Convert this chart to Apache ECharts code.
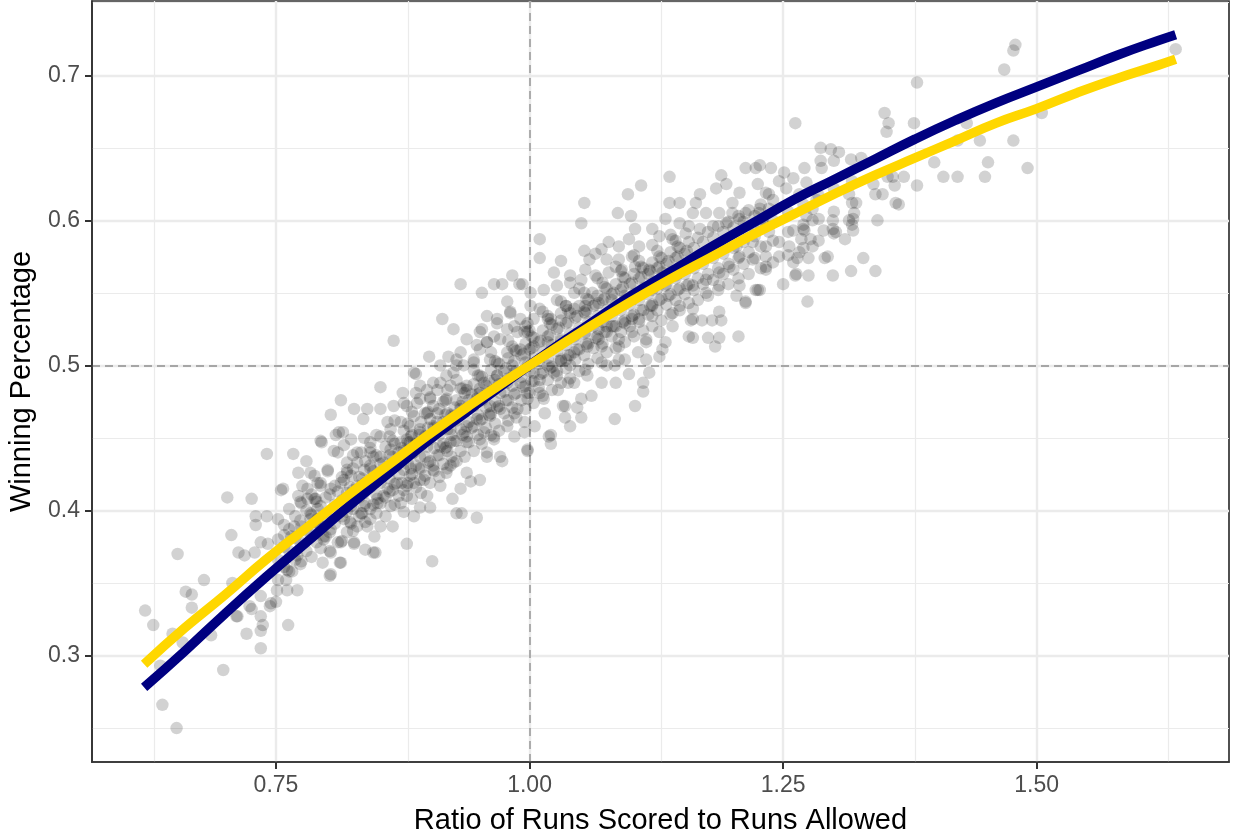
<!DOCTYPE html>
<html>
<head>
<meta charset="utf-8">
<script src="https://cdn.jsdelivr.net/npm/echarts@6/dist/echarts.min.js"></script>
<style>
html,body{margin:0;padding:0;background:#fff;overflow:hidden;}
#chart{width:1233px;height:834px;}
</style>
</head>
<body>
<div id="chart"></div>
<script>
// ---- tick values / labels ----
const xTickValues = [0.75, 1.00, 1.25, 1.50];
const xTickLabels = ['0.75', '1.00', '1.25', '1.50'];
const xMinorValues = [0.625, 0.875, 1.125, 1.375, 1.625];
const yTickValues = [0.3, 0.4, 0.5, 0.6, 0.7];
const yTickLabels = ['0.3', '0.4', '0.5', '0.6', '0.7'];
const yMinorValues = [0.25, 0.35, 0.45, 0.55, 0.65, 0.75];
const refX = 1.0;
const refY = 0.5;

// ---- team seasons: [run ratio, winning percentage] (outer / readable points) ----
const teamPoints = [
[0.741,0.439],[0.767,0.439],[0.702,0.409],[0.726,0.408],[0.653,0.370],[0.621,0.331],[0.629,0.321],[0.679,0.352],[0.661,0.344],[0.667,0.342],[0.667,0.333],[0.648,0.315],[0.658,0.309],[0.686,0.314],[0.698,0.290],[0.638,0.266],[0.652,0.250],[0.636,0.293],[0.721,0.315],[0.735,0.305],[0.735,0.317],[0.737,0.321],[0.762,0.321],[0.711,0.327],[0.724,0.334],[0.735,0.327],[0.744,0.334],[0.750,0.337],
[0.706,0.383],[0.730,0.396],[0.741,0.396],[0.730,0.390],[0.713,0.371],[0.719,0.369],[0.729,0.371],[0.735,0.378],[0.742,0.377],[0.755,0.414],[0.772,0.426],[0.780,0.434],[0.784,0.426],[0.801,0.427],[0.795,0.447],[0.776,0.417],[0.772,0.410],[0.781,0.408],[0.789,0.408],[0.791,0.419],[0.804,0.415],[0.758,0.383],[0.768,0.389],[0.707,0.350],[0.712,0.327],[0.735,0.341],[0.726,0.332],[0.745,0.336],[0.751,0.345],[0.760,0.352],[0.761,0.345],[0.771,0.345],[0.766,0.358],[0.775,0.365],[0.796,0.364],[0.803,0.355],[0.813,0.364],[0.797,0.380],[0.811,0.378],[0.804,0.371],[0.827,0.377],[0.838,0.373],[0.846,0.371],[0.807,0.441],[0.812,0.454],[0.817,0.445],[0.837,0.450],[0.843,0.440],[0.830,0.440],[0.820,0.433],[0.837,0.428],[0.811,0.413],[0.817,0.421],[0.824,0.424],[0.830,0.417],[0.843,0.417],[0.824,0.403],[0.837,0.403],[0.843,0.394],[0.830,0.389],[0.817,0.394],[0.791,0.394],[0.804,0.387],[0.850,0.408],[0.791,0.401],[0.784,0.394],
[0.932,0.556],[0.965,0.556],[0.973,0.556],[0.983,0.562],[0.990,0.556],[0.953,0.550],[0.978,0.544],[0.981,0.537],[0.914,0.532],[0.925,0.525],[0.958,0.534],[0.968,0.532],[0.953,0.525],[0.866,0.517],[0.901,0.506],[0.920,0.506],[0.928,0.504],[0.888,0.494],[0.853,0.485],[0.814,0.476],[0.804,0.466],[0.794,0.448],[0.757,0.415],[0.827,0.470],[0.840,0.470],[0.853,0.470],[0.836,0.463],[0.809,0.452],[0.816,0.454],[0.824,0.449],[0.811,0.440],[0.834,0.440],[0.843,0.447],[0.860,0.461],[0.866,0.472],[0.875,0.481],[0.888,0.481],[0.876,0.474],[0.889,0.474],[0.899,0.483],[0.909,0.483],[0.902,0.477],[0.912,0.488],[0.918,0.493],[0.925,0.495],[0.935,0.500],[0.945,0.504],[0.951,0.511],[0.958,0.516],[0.965,0.520],[0.978,0.525],[0.985,0.527],[0.991,0.532],[0.998,0.523],[0.938,0.483],[0.951,0.481],[0.965,0.483],[0.978,0.488],[0.991,0.488],[0.998,0.481],[0.938,0.470],[0.925,0.465],[0.948,0.463],[0.961,0.465],[0.971,0.470],[0.985,0.467],[0.995,0.461],[0.938,0.451],[0.951,0.449],[0.965,0.451],[0.958,0.440],[0.973,0.434],[0.985,0.451],[0.998,0.442],[0.951,0.421],[0.942,0.420],[0.924,0.408],[0.928,0.398],[0.933,0.398],[0.948,0.395],[0.912,0.417],[0.918,0.426],[0.925,0.433],[0.905,0.431],[0.896,0.421],[0.886,0.419],[0.879,0.410],[0.899,0.410],[0.902,0.402],[0.892,0.402],[0.886,0.396],[0.879,0.377],[0.904,0.365],[0.865,0.389],[0.853,0.389],[0.840,0.389],[0.847,0.382],[0.848,0.371],[0.827,0.378],[0.814,0.378],[0.814,0.364],[0.804,0.356],[0.797,0.382],[0.788,0.391],[0.784,0.398],[0.775,0.389],[0.765,0.382],[0.771,0.369],[0.761,0.359],[0.794,0.419],[0.814,0.419],[0.824,0.410],[0.837,0.412],[0.850,0.405],[0.860,0.415],[0.869,0.419],[0.863,0.403],[0.873,0.405],[0.834,0.398],[0.824,0.391],[0.843,0.431],[0.853,0.437],[0.863,0.442],[0.873,0.447],[0.883,0.451],[0.892,0.456],[0.879,0.437],[0.892,0.437],[0.869,0.431],[0.883,0.429],[0.899,0.444],[0.912,0.444],[0.922,0.447],[0.909,0.456],[0.918,0.459],[0.863,0.456],[0.853,0.451],[0.873,0.461],[0.886,0.465],[0.899,0.467],[0.909,0.467],[0.830,0.433],[0.820,0.428],[0.801,0.428],[0.788,0.424],[0.781,0.415],[0.775,0.405],[0.788,0.408],
[1.138,0.630],[1.110,0.624],[1.097,0.618],[1.054,0.612],[1.051,0.598],[1.087,0.605],[1.100,0.603],[1.138,0.612],[1.148,0.612],[1.010,0.587],[1.010,0.574],[1.031,0.572],[0.993,0.556],[1.168,0.618],[1.189,0.631],[1.194,0.625],[1.184,0.622],[1.213,0.636],[1.223,0.636],[1.238,0.636],[1.225,0.625],[1.233,0.619],[1.207,0.619],[1.200,0.612],[1.164,0.612],[1.161,0.605],[1.174,0.605],[1.187,0.605],[1.200,0.605],[1.213,0.605],[1.226,0.605],[1.134,0.601],[1.148,0.598],[1.121,0.594],[1.104,0.594],[1.078,0.585],[1.071,0.580],[1.054,0.579],[1.059,0.573],[1.088,0.582],[1.098,0.587],[1.108,0.582],[1.128,0.589],[1.141,0.587],[1.154,0.591],[1.168,0.594],[1.181,0.596],[1.194,0.598],[1.207,0.601],[1.220,0.596],[1.233,0.596],[1.187,0.582],[1.204,0.582],[1.220,0.585],[1.233,0.582],[1.207,0.575],[1.220,0.573],[1.233,0.568],[1.197,0.568],[1.187,0.564],[1.174,0.559],[1.161,0.555],[1.174,0.550],[1.187,0.555],[1.207,0.555],[1.225,0.552],[1.204,0.548],[1.213,0.543],[1.187,0.537],[1.161,0.539],[1.148,0.541],[1.159,0.531],[1.170,0.531],[1.180,0.531],[1.189,0.531],[1.161,0.519],[1.176,0.519],[1.187,0.519],[1.183,0.513],[1.206,0.520],[1.141,0.527],[1.128,0.523],[1.134,0.516],[1.128,0.506],[1.115,0.504],[1.118,0.495],[1.112,0.488],[1.112,0.482],[1.104,0.472],[1.084,0.463],[1.098,0.494],[1.085,0.488],[1.071,0.488],[1.061,0.479],[1.051,0.477],[1.051,0.464],[1.040,0.458],[1.035,0.472],[1.021,0.452],[1.021,0.446],[1.005,0.458],[1.015,0.467],[1.028,0.483],[1.038,0.488],[1.057,0.493],[1.071,0.502],[1.084,0.500],[1.094,0.504],[1.107,0.509],[1.071,0.513],[1.057,0.513],[1.044,0.509],[1.031,0.504],[1.018,0.500],[1.004,0.495],[1.010,0.481],[1.024,0.495],[1.040,0.500],[1.088,0.518],[1.101,0.523],[1.115,0.518],[1.121,0.534],[1.108,0.532],[1.094,0.529],[1.081,0.527],[1.068,0.525],[1.055,0.523],[1.044,0.520],[1.031,0.518],[1.018,0.516],[1.004,0.513],[0.995,0.523],[1.004,0.532],[1.018,0.534],[1.031,0.536],[1.044,0.539],[1.055,0.541],[1.068,0.543],[1.081,0.545],[1.094,0.548],[1.108,0.550],[1.121,0.552],[1.134,0.555],[1.144,0.562],[1.131,0.564],[1.118,0.566],[1.104,0.568],[1.091,0.566],[1.078,0.564],[1.065,0.562],[1.051,0.559],[1.040,0.557],[1.027,0.555],[1.014,0.552],[1.001,0.550],[1.001,0.541],[1.044,0.550],[1.027,0.545],[1.062,0.550],[1.076,0.573],[1.088,0.573],[1.101,0.575],[1.065,0.577],[1.040,0.562],[1.024,0.564],[1.055,0.566],
[1.262,0.667],[1.350,0.674],[1.354,0.667],[1.352,0.661],[1.379,0.667],[1.431,0.667],[1.444,0.655],[1.477,0.655],[1.422,0.655],[1.452,0.640],[1.399,0.640],[1.408,0.630],[1.422,0.630],[1.449,0.630],[1.369,0.630],[1.382,0.624],[1.360,0.624],[1.364,0.611],[1.348,0.618],[1.341,0.618],[1.339,0.625],[1.353,0.630],[1.358,0.630],[1.343,0.600],[1.329,0.574],[1.317,0.565],[1.299,0.562],[1.291,0.574],[1.274,0.544],[1.250,0.556],[1.275,0.562],[1.262,0.562],[1.275,0.574],[1.264,0.574],[1.311,0.587],[1.302,0.592],[1.319,0.593],[1.315,0.600],[1.320,0.605],[1.322,0.612],[1.315,0.618],[1.290,0.593],[1.299,0.600],[1.279,0.600],[1.277,0.587],[1.268,0.587],[1.271,0.593],[1.260,0.593],[1.246,0.585],[1.236,0.592],[1.256,0.582],[1.246,0.575],[1.233,0.575],[1.233,0.566],[1.227,0.552],[1.287,0.650],[1.297,0.649],[1.305,0.647],[1.287,0.641],[1.300,0.641],[1.288,0.636],[1.271,0.636],[1.251,0.633],[1.260,0.629],[1.246,0.627],[1.273,0.626],[1.253,0.622],[1.236,0.618],[1.266,0.618],[1.317,0.642],[1.327,0.643],[1.227,0.638],[1.279,0.608],[1.273,0.603],[1.283,0.614],[1.227,0.608],[1.236,0.608],[1.230,0.601],[1.382,0.695],[1.341,0.565],
[1.479,0.721],[1.477,0.717],[1.468,0.704],[1.637,0.718],[1.505,0.674],[1.491,0.636],
[1.263,0.563],[1.260,0.571],[1.223,0.552],[1.213,0.544],[1.294,0.575],[1.319,0.601],[1.361,0.612],[1.299,0.594],[1.270,0.594],[1.279,0.582],[1.266,0.578],
[1.035,0.464],[1.033,0.472],[1.047,0.471],[1.019,0.451],[0.998,0.441],[0.886,0.495],[0.948,0.514],[0.951,0.523],[0.968,0.529],[0.981,0.536],[1.010,0.539],[1.036,0.541],[1.021,0.532],[0.998,0.529],[1.055,0.536],[1.076,0.527],[1.101,0.532],[1.121,0.541],[1.141,0.536],[1.161,0.532],[1.157,0.520],[1.115,0.516],[1.131,0.511],[1.088,0.513],[1.068,0.518],[1.036,0.504],[1.010,0.490],[1.027,0.493],[1.044,0.488],[1.055,0.497],[1.076,0.500],[1.088,0.504],[0.998,0.477],[1.014,0.477],[0.988,0.470],[0.978,0.458],[0.995,0.454],[0.965,0.449],[0.971,0.437],[0.958,0.437],[0.938,0.426],[0.922,0.431],[0.905,0.428],[0.892,0.421],[0.879,0.417],[0.932,0.415],[0.886,0.440],[0.918,0.444],[0.938,0.447],[0.955,0.454],[0.938,0.458],[0.922,0.456],[0.905,0.458],[0.892,0.454],[0.879,0.449],[0.879,0.472],[0.892,0.477],[0.905,0.472],[0.918,0.477],[0.932,0.472],[0.948,0.477],[0.961,0.472],[0.971,0.481],[0.955,0.488],[0.938,0.486],[0.922,0.486],[0.905,0.488],[0.892,0.486],[0.912,0.500],[0.928,0.500],[0.945,0.502],[0.961,0.504],[0.978,0.509],[0.991,0.511],[0.985,0.495],[0.998,0.500],[0.968,0.493],[0.971,0.518],[0.988,0.523],[0.938,0.518],[0.958,0.516],[0.932,0.509]
];

// ---- team seasons in the dense core of the cloud (estimated) ----
const corePoints = [
[0.752,0.352],[0.752,0.366],[0.752,0.380],[0.752,0.394],[0.763,0.358],[0.763,0.372],[0.763,0.387],[0.763,0.401],[0.774,0.363],[0.774,0.378],[0.774,0.393],[0.774,0.406],[0.785,0.368],[0.785,0.383],[0.785,0.397],[0.785,0.411],[0.794,0.374],[0.794,0.389],[0.794,0.403],[0.794,0.417],
[0.803,0.372],[0.803,0.385],[0.803,0.398],[0.803,0.411],[0.815,0.379],[0.815,0.396],[0.815,0.407],[0.815,0.423],[0.826,0.386],[0.826,0.401],[0.826,0.414],[0.826,0.429],[0.826,0.438],[0.838,0.392],[0.838,0.405],[0.838,0.419],[0.838,0.434],[0.849,0.398],[0.849,0.411],[0.849,0.424],[0.849,0.438],[0.849,0.452],[0.858,0.396],[0.858,0.409],[0.858,0.427],[0.858,0.444],[0.867,0.404],[0.867,0.418],[0.867,0.433],[0.867,0.446],[0.867,0.462],[0.876,0.399],[0.876,0.414],[0.876,0.428],[0.876,0.441],[0.876,0.455],[0.884,0.408],[0.884,0.425],[0.884,0.439],[0.884,0.452],[0.884,0.468],[0.893,0.412],[0.893,0.429],[0.893,0.445],[0.893,0.461],[0.902,0.419],[0.902,0.434],[0.902,0.449],[0.902,0.463],[0.902,0.478],[0.911,0.423],[0.911,0.438],[0.911,0.452],[0.911,0.470],[0.919,0.429],[0.919,0.441],[0.919,0.456],[0.919,0.467],[0.919,0.483],[0.928,0.434],[0.928,0.448],[0.928,0.462],[0.928,0.476],[0.928,0.490],[0.936,0.437],[0.936,0.454],[0.936,0.468],[0.936,0.481],[0.945,0.441],[0.945,0.458],[0.945,0.472],[0.945,0.487],[0.945,0.497],[0.953,0.446],[0.953,0.463],[0.953,0.476],[0.953,0.492],[0.962,0.452],[0.962,0.467],[0.962,0.482],[0.962,0.497],[0.962,0.509],[0.970,0.455],[0.970,0.472],[0.970,0.487],[0.970,0.501],[0.979,0.462],[0.979,0.476],[0.979,0.491],[0.979,0.505],[0.979,0.517],[0.987,0.464],[0.987,0.481],[0.987,0.496],[0.987,0.510],[0.996,0.470],[0.996,0.486],[0.996,0.502],[0.996,0.515],[0.996,0.527],
[1.004,0.474],[1.004,0.489],[1.004,0.505],[1.004,0.519],[1.013,0.479],[1.013,0.495],[1.013,0.509],[1.013,0.524],[1.013,0.537],[1.022,0.483],[1.022,0.499],[1.022,0.514],[1.022,0.528],[1.031,0.488],[1.031,0.503],[1.031,0.517],[1.031,0.531],[1.031,0.544],[1.040,0.491],[1.040,0.507],[1.040,0.522],[1.040,0.536],[1.049,0.496],[1.049,0.511],[1.049,0.526],[1.049,0.541],[1.049,0.553],[1.058,0.501],[1.058,0.515],[1.058,0.530],[1.058,0.545],[1.067,0.505],[1.067,0.520],[1.067,0.534],[1.067,0.548],[1.067,0.560],[1.076,0.509],[1.076,0.523],[1.076,0.538],[1.076,0.553],[1.085,0.512],[1.085,0.527],[1.085,0.542],[1.085,0.556],[1.085,0.568],[1.094,0.516],[1.094,0.531],[1.094,0.545],[1.094,0.560],[1.103,0.520],[1.103,0.535],[1.103,0.549],[1.103,0.563],[1.103,0.576],[1.112,0.524],[1.112,0.538],[1.112,0.553],[1.112,0.567],[1.121,0.527],[1.121,0.542],[1.121,0.557],[1.121,0.571],[1.121,0.583],[1.130,0.531],[1.130,0.546],[1.130,0.560],[1.130,0.574],[1.139,0.535],[1.139,0.549],[1.139,0.564],[1.139,0.578],[1.139,0.590],[1.148,0.538],[1.148,0.553],[1.148,0.567],[1.148,0.581],[1.157,0.543],[1.157,0.556],[1.157,0.571],[1.157,0.585],[1.157,0.596],[1.166,0.545],[1.166,0.560],[1.166,0.574],[1.166,0.588],[1.176,0.548],[1.176,0.563],[1.176,0.578],[1.176,0.592],[1.186,0.552],[1.186,0.567],[1.186,0.581],[1.186,0.596],[1.196,0.556],[1.196,0.570],[1.196,0.585],[1.196,0.599],[1.206,0.560],[1.206,0.574],[1.206,0.589],[1.206,0.603],[1.216,0.563],[1.216,0.578],[1.216,0.592],[1.216,0.607],[1.228,0.567],[1.228,0.582],[1.228,0.596],[1.228,0.611],[1.240,0.571],[1.240,0.586],[1.240,0.600],[1.240,0.614],
[1.255,0.576],[1.255,0.592],[1.255,0.606],[1.270,0.581],[1.270,0.597],[1.270,0.611],[1.285,0.586],[1.285,0.601],[1.285,0.617],[1.300,0.591],[1.300,0.606],[1.300,0.622],[1.318,0.597],[1.318,0.612],[1.318,0.627]
];

// ---- more team seasons in the darkest band along the curves (estimated) ----
const bandPoints = [
[0.758,0.361],[0.758,0.375],[0.758,0.390],[0.769,0.366],[0.769,0.381],[0.769,0.396],[0.780,0.372],[0.780,0.386],[0.780,0.400],[0.790,0.378],[0.790,0.392],[0.790,0.406],[0.799,0.382],[0.799,0.396],[0.799,0.409],
[0.808,0.391],[0.808,0.404],[0.808,0.417],[0.820,0.385],[0.820,0.399],[0.820,0.412],[0.820,0.426],[0.832,0.396],[0.832,0.409],[0.832,0.423],[0.843,0.401],[0.843,0.416],[0.843,0.429],[0.843,0.443],[0.853,0.405],[0.853,0.419],[0.853,0.432],[0.862,0.413],[0.862,0.422],[0.862,0.438],[0.862,0.451],[0.871,0.410],[0.871,0.425],[0.871,0.440],[0.880,0.419],[0.880,0.432],[0.880,0.447],[0.880,0.460],[0.888,0.416],[0.888,0.431],[0.888,0.446],[0.897,0.424],[0.897,0.437],[0.897,0.451],[0.897,0.467],[0.906,0.427],[0.906,0.443],[0.906,0.457],[0.915,0.432],[0.915,0.446],[0.915,0.461],[0.915,0.475],[0.923,0.437],[0.923,0.452],[0.923,0.466],[0.932,0.441],[0.932,0.456],[0.932,0.470],[0.932,0.484],[0.940,0.447],[0.940,0.461],[0.940,0.476],[0.949,0.452],[0.949,0.466],[0.949,0.480],[0.949,0.493],[0.957,0.457],[0.957,0.471],[0.957,0.486],[0.966,0.460],[0.966,0.475],[0.966,0.490],[0.966,0.503],[0.975,0.467],[0.975,0.482],[0.975,0.496],[0.983,0.471],[0.983,0.486],[0.983,0.500],[0.983,0.513],[0.992,0.476],[0.992,0.492],[0.992,0.507],
[1.000,0.481],[1.000,0.496],[1.000,0.511],[1.000,0.524],[1.009,0.485],[1.009,0.501],[1.009,0.516],[1.018,0.490],[1.018,0.505],[1.018,0.520],[1.018,0.532],[1.027,0.496],[1.027,0.510],[1.027,0.525],[1.036,0.498],[1.036,0.514],[1.036,0.529],[1.036,0.541],[1.045,0.504],[1.045,0.518],[1.045,0.533],[1.054,0.507],[1.054,0.522],[1.054,0.537],[1.054,0.550],[1.063,0.512],[1.063,0.527],[1.063,0.541],[1.072,0.515],[1.072,0.530],[1.072,0.545],[1.072,0.557],[1.081,0.520],[1.081,0.534],[1.081,0.549],[1.090,0.523],[1.090,0.538],[1.090,0.552],[1.090,0.565],[1.099,0.527],[1.099,0.542],[1.099,0.556],[1.108,0.530],[1.108,0.545],[1.108,0.560],[1.108,0.572],[1.117,0.535],[1.117,0.549],[1.117,0.563],[1.126,0.538],[1.126,0.553],[1.126,0.567],[1.126,0.579],[1.135,0.542],[1.135,0.556],[1.135,0.570],[1.144,0.545],[1.144,0.560],[1.144,0.574],[1.144,0.586],[1.153,0.549],[1.153,0.563],[1.153,0.577],[1.162,0.552],[1.162,0.567],[1.162,0.581],[1.171,0.556],[1.171,0.570],[1.171,0.585],[1.181,0.559],[1.181,0.574],[1.181,0.588],[1.191,0.563],[1.191,0.577],[1.191,0.592],[1.201,0.566],[1.201,0.581],[1.201,0.595],[1.211,0.570],[1.211,0.585],[1.211,0.599],[1.222,0.574],[1.222,0.589],[1.222,0.603]
];

// ---- darkest part of the band, on both sides of the curves (estimated) ----
const densePoints = [
[0.823,0.392],[0.823,0.416],[0.835,0.398],[0.835,0.422],[0.846,0.404],[0.846,0.427],[0.846,0.437],[0.856,0.410],[0.856,0.433],[0.865,0.414],[0.865,0.437],[0.865,0.448],[0.874,0.419],[0.874,0.443],[0.882,0.424],[0.882,0.447],[0.882,0.458],[0.891,0.429],[0.891,0.452],[0.900,0.433],[0.900,0.457],[0.900,0.468],[0.909,0.438],[0.909,0.461],[0.917,0.443],[0.917,0.466],[0.917,0.476],[0.926,0.448],[0.926,0.471],[0.934,0.452],[0.934,0.475],[0.934,0.484],[0.943,0.457],[0.943,0.480],[0.951,0.462],[0.951,0.484],[0.951,0.493],[0.960,0.466],[0.960,0.489],[0.968,0.471],[0.968,0.493],[0.968,0.502],[0.977,0.476],[0.977,0.498],[0.985,0.480],[0.985,0.503],[0.985,0.511],[0.994,0.485],[0.994,0.508],
[1.002,0.489],[1.002,0.512],[1.002,0.520],[1.011,0.494],[1.011,0.517],[1.020,0.498],[1.020,0.521],[1.020,0.529],[1.029,0.503],[1.029,0.526],[1.038,0.507],[1.038,0.530],[1.038,0.538],[1.047,0.511],[1.047,0.534],[1.056,0.515],[1.056,0.538],[1.056,0.546],[1.065,0.519],[1.065,0.542],[1.074,0.523],[1.074,0.546],[1.074,0.554],[1.083,0.527],[1.083,0.550],[1.092,0.530],[1.092,0.554],[1.092,0.561],[1.101,0.534],[1.101,0.557],[1.110,0.538],[1.110,0.561],[1.110,0.568],[1.119,0.541],[1.119,0.565],[1.128,0.545],[1.128,0.568],[1.128,0.575],[1.137,0.548],[1.137,0.572],[1.146,0.552],[1.146,0.575],[1.146,0.582],[1.155,0.555],[1.155,0.579]
];

// ---- fitted curves ----
const curveRatio = [0.62,0.66,0.70,0.74,0.78,0.82,0.86,0.90,0.94,0.98,1.02,1.06,1.10,1.14,1.18,1.22,1.26,1.30,1.34,1.38,1.42,1.46,1.50,1.54,1.58,1.62,1.637];
const navyCurve = [0.278,0.303,0.329,0.354,0.378,0.402,0.425,0.448,0.469,0.490,0.510,0.529,0.548,0.565,0.582,0.598,0.614,0.628,0.642,0.656,0.669,0.681,0.692,0.703,0.714,0.724,0.728];
const goldCurve = [0.294,0.319,0.342,0.366,0.388,0.410,0.431,0.452,0.472,0.491,0.509,0.527,0.544,0.560,0.575,0.590,0.604,0.618,0.631,0.643,0.655,0.667,0.677,0.688,0.698,0.707,0.711];

const xLabelText = 'Ratio of Runs Scored to Runs Allowed';
const yLabelText = 'Winning Percentage';

function pairs(xs, ys) { return xs.map((x, i) => [x, ys[i]]); }
function labelFor(values, labels) {
  return v => { const i = values.findIndex(t => Math.abs(t - v) < 1e-9); return i >= 0 ? labels[i] : ''; };
}

const gridColor = '#ebebeb';
const gridLines = []
  .concat(xMinorValues.map(v => ({ xAxis: v, lineStyle: { color: gridColor, width: 1.2, type: 'solid' } })))
  .concat(yMinorValues.map(v => ({ yAxis: v, lineStyle: { color: gridColor, width: 1.2, type: 'solid' } })))
  .concat(xTickValues.map(v => ({ xAxis: v, lineStyle: { color: gridColor, width: 2.4, type: 'solid' } })))
  .concat(yTickValues.map(v => ({ yAxis: v, lineStyle: { color: gridColor, width: 2.4, type: 'solid' } })))
  .concat([
    { xAxis: refX, lineStyle: { color: '#a6a6a6', width: 1.8, type: [8, 5] } },
    { yAxis: refY, lineStyle: { color: '#a6a6a6', width: 1.8, type: [8, 5] } }
  ]);

const FONT = '"Liberation Sans", Arial, Helvetica, sans-serif';
const chart = echarts.init(document.getElementById('chart'), null, { renderer: 'canvas' });
chart.setOption({
  animation: false,
  backgroundColor: '#ffffff',
  grid: { left: 92, top: 1, right: 4, bottom: 72, show: true, borderColor: '#333333', borderWidth: 1.7, backgroundColor: 'transparent', containLabel: false, outerBoundsMode: 'none' },
  xAxis: {
    type: 'value', min: 0.5686, max: 1.6896,
    name: xLabelText, nameLocation: 'middle', nameGap: 44,
    nameTextStyle: { color: '#000', fontSize: 29, fontFamily: FONT },
    axisLine: { show: true, lineStyle: { color: '#333333', width: 1.7 } },
    axisTick: { show: true, customValues: xTickValues, length: 7, lineStyle: { color: '#333', width: 2 } },
    axisLabel: { customValues: xTickValues, formatter: labelFor(xTickValues, xTickLabels), color: '#4d4d4d', fontSize: 23, fontFamily: FONT, margin: 12 },
    splitLine: { show: false }
  },
  yAxis: {
    type: 'value', min: 0.2266, max: 0.7512,
    name: yLabelText, nameLocation: 'middle', nameGap: 56,
    nameTextStyle: { color: '#000', fontSize: 29, fontFamily: FONT },
    axisLine: { show: true, lineStyle: { color: '#333333', width: 1.7 } },
    axisTick: { show: true, customValues: yTickValues, length: 7, lineStyle: { color: '#333', width: 2 } },
    axisLabel: { customValues: yTickValues, formatter: labelFor(yTickValues, yTickLabels), color: '#4d4d4d', fontSize: 23, fontFamily: FONT, margin: 12 },
    splitLine: { show: false }
  },
  series: [
    {
      name: 'grid', type: 'line', data: [], z: 0, silent: true,
      markLine: { silent: true, z: 0, symbol: ['none', 'none'], label: { show: false }, emphasis: { disabled: true }, data: gridLines, animation: false }
    },
    {
      name: 'teams', type: 'scatter', z: 10, silent: true, large: false,
      symbol: 'circle', symbolSize: 12.5,
      itemStyle: { color: 'rgba(0,0,0,0.22)', borderWidth: 0 },
      data: teamPoints.concat(corePoints, bandPoints, densePoints)
    },
    {
      name: 'navy', type: 'line', z: 11, smooth: true, showSymbol: false, silent: true,
      lineStyle: { color: '#000080', width: 9.5, cap: 'butt' },
      data: pairs(curveRatio, navyCurve)
    },
    {
      name: 'gold', type: 'line', z: 12, smooth: true, showSymbol: false, silent: true,
      lineStyle: { color: '#FFD700', width: 9.5, cap: 'butt' },
      data: pairs(curveRatio, goldCurve)
    }
  ]
});
</script>
</body>
</html>
